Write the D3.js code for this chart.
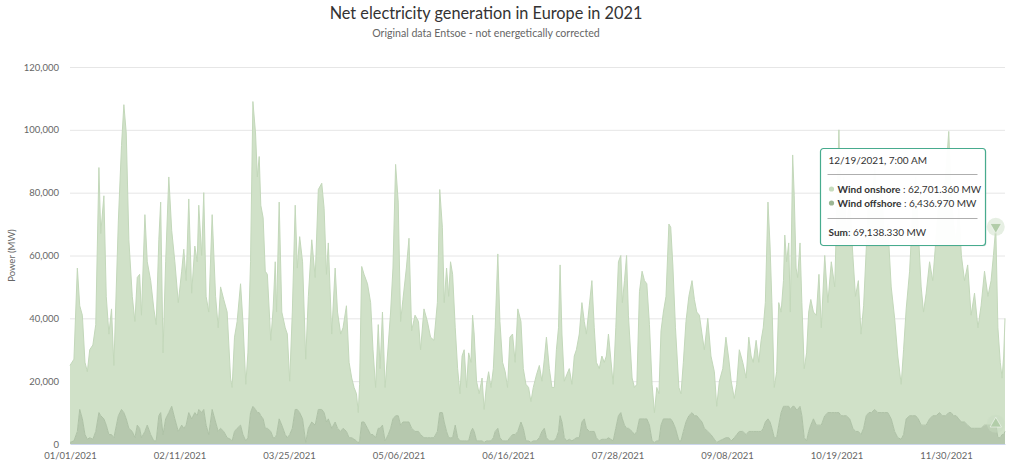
<!DOCTYPE html>
<html><head><meta charset="utf-8">
<script src="https://cdn.jsdelivr.net/npm/d3@7"></script>
<style>body{margin:0;background:#fff;} svg{display:block;font-family:Lato,'Open Sans',sans-serif;}</style>
</head><body><svg id="chart" width="1024" height="469"></svg>
<script>
// x positions: fractional day of year 2021 (0 = 01/01/2021 00:00)
const dayOfYear = [
0.0,1.5,2.8,3.7,4.7,5.7,6.6,7.5,8.7,9.8,11.0,11.7,12.9,13.8,14.8,15.8,16.7,18.4,19.6,20.5,21.4,22.4,23.7,24.7,25.6,26.5,27.2,28.5,29.4,30.7,31.9,32.8,33.8,34.5,35.4,36.4,37.6,38.7,39.9,41.2,42.5,43.3,44.2,45.2,46.3,47.5,48.4,49.0,50.1,50.9,51.8,52.8,54.1,55.4,56.4,57.3,58.5,59.8,61.1,61.7,62.6,63.6,64.9,65.8,66.9,67.7,68.7,69.6,70.6,
71.3,72.0,72.6,73.5,74.3,75.1,76.4,77.3,78.1,78.6,79.6,80.6,81.9,82.7,83.6,84.6,85.7,86.5,87.4,88.5,89.7,90.7,92.0,93.3,94.5,95.8,96.7,97.6,98.3,99.6,100.9,101.8,103.0,103.9,105.2,106.2,107.2,108.1,109.0,109.7,110.2,111.0,111.9,113.2,114.4,115.3,116.3,117.3,118.0,118.9,119.9,121.1,122.0,122.9,123.9,124.9,125.8,126.7,128.0,129.0,130.0,131.3,132.6,133.4,134.7,136.0,137.2,138.5,139.8,140.7,141.7,
142.4,143.3,144.1,144.8,145.6,146.6,147.5,148.4,149.2,150.0,150.9,151.7,152.6,153.2,153.8,154.7,155.7,156.8,157.6,158.5,159.3,160.2,161.1,161.8,162.8,163.6,164.6,165.6,166.5,167.4,168.4,169.4,170.4,171.6,172.5,173.5,174.5,175.4,176.3,177.5,178.6,179.6,180.5,181.3,182.4,183.4,184.3,185.1,185.9,186.5,187.2,188.1,189.0,190.0,191.0,191.9,192.7,193.8,194.8,195.7,196.5,197.6,198.6,199.5,200.3,201.4,202.4,203.3,204.1,204.9,205.8,206.7,207.7,208.7,209.6,210.2,211.0,211.8,212.5,
213.9,214.8,215.7,216.7,217.7,218.6,219.5,220.5,221.5,222.4,223.3,224.1,224.9,225.8,226.8,227.9,228.6,229.4,230.4,231.7,232.5,233.4,234.4,235.5,236.7,237.6,238.5,239.5,240.5,241.4,242.7,243.9,245.2,246.1,247.1,248.4,249.6,250.7,251.6,252.8,253.7,254.7,256.0,257.3,258.3,259.2,260.0,261.1,262.1,263.0,263.8,264.6,265.6,266.4,267.1,268.0,268.9,269.7,270.6,271.5,272.0,272.7,273.5,274.1,275.0,275.6,276.3,276.9,277.8,278.5,279.4,280.3,281.1,281.9,282.9,
284.0,285.0,285.9,287.2,288.4,289.7,291.0,291.8,292.6,293.4,294.4,295.4,296.7,297.9,298.9,300.0,301.0,302.0,303.0,304.0,305.0,306.2,307.4,308.7,310.0,311.2,312.5,313.8,315.0,316.3,317.2,318.2,319.5,320.7,321.8,322.8,323.9,324.8,325.8,327.1,328.3,329.6,330.9,331.9,333.2,334.4,335.3,336.2,337.2,338.2,339.2,340.4,341.6,342.9,344.2,345.5,346.7,348.0,349.3,350.5,351.4,352.2917,353.1,354.0,354.7,355.3,355.8
];
// Wind onshore, MW
const onshore = [
24500,26000,52000,33000,33000,23000,21500,28000,30000,34000,78000,58000,71000,41000,32000,40000,23000,62000,84000,98000,91000,60000,43000,37000,47000,49000,39000,69000,52000,49000,42000,37000,56000,67000,26000,50000,75000,56000,50000,41000,49000,57000,46000,68000,40000,53000,49000,65000,50000,69000,41000,39000,62000,40000,33000,45000,42000,40000,19500,17000,30000,34000,45000,36000,18000,27000,48000,97000,88000,
75000,81500,67000,64000,50000,49000,29000,41000,56000,39000,69000,36000,34000,33000,17000,37000,65000,45000,56000,50000,26500,42000,58000,47000,70000,72000,65000,47000,56000,30000,49000,37000,31000,32000,40000,24000,19000,16500,15000,9700,18000,49500,47000,46000,42000,27000,16000,33000,19000,36000,17000,28500,37000,48000,80000,68000,33000,39000,49000,58500,31000,37000,35000,27000,41000,37000,32000,31000,41000,71000,59000,
38000,52000,45000,56000,52000,31000,22000,15000,27000,29000,17000,28000,22000,36000,31000,19000,15000,20000,10500,18000,22000,17000,22000,33000,55500,37000,25000,22000,17000,32000,32000,23000,39000,32000,19000,18000,17000,13000,17000,21000,23000,16000,22000,32000,23000,17000,17000,28000,33000,48000,28000,18000,21000,22500,18000,26500,28000,33000,38000,31000,30000,40000,48000,33000,24000,23000,26500,24500,26500,33000,25500,18000,32000,49000,50000,37000,46000,55000,36000,
17000,15000,15000,40500,47000,44000,43000,32000,18000,9500,17000,15000,30000,34000,39000,62000,61000,50000,32000,17000,15000,22000,32000,38000,42000,37000,33000,33000,28000,25000,36000,25000,21500,11500,19000,22500,32000,25000,19000,12500,16000,26000,22000,18000,30000,24000,22000,29000,22000,29000,32000,38000,69000,56000,40000,16000,21000,39000,32000,40000,54500,46000,52000,31000,80000,67000,45000,42000,52000,36000,22000,28000,38000,40000,34000,
35000,48000,31000,51000,35000,48000,40000,65000,90000,61000,76000,59000,70000,55000,43000,48000,32000,39000,53000,70000,62000,77000,65000,72000,55000,60000,42000,36000,26000,17500,27000,35000,46000,66000,76000,60000,44000,36000,42000,50000,43000,57000,70000,63000,76000,89500,70000,61000,55000,67000,53000,45000,51000,36000,43000,32000,39000,49000,41000,46000,54000,62701.36,35000,24000,18000,25000,36000
];
// Wind offshore, MW
const offshore = [
500,1000,4000,11000,8000,3000,1500,2000,1500,4000,10000,9000,8000,6000,3000,3000,2000,9000,11000,10000,8000,5000,4000,2000,6000,5000,2000,4000,6000,3000,1000,1000,9000,10000,3000,8000,10000,12000,8000,4000,6000,5000,6000,10000,8000,10000,9000,11000,10000,11000,6000,3000,11000,7000,4000,5000,4000,2000,1500,1000,4000,5000,6000,3000,1000,2000,10000,12000,11000,
10000,10000,9000,8000,5000,5000,4000,2000,2000,3000,8000,6000,3000,2000,3000,5000,11000,11000,10000,8000,500,5000,7000,6000,11000,11000,10000,7000,8000,5000,7000,5000,4000,5000,4000,2000,2000,1500,1000,300,1000,7000,7000,5000,3000,3000,2000,5000,5000,6000,1000,3000,5000,8000,9000,9000,6000,7000,7000,7000,5000,4000,4000,3000,2000,2000,2000,2000,4000,10000,10000,
7000,4000,2000,2000,2000,6000,2000,1000,1000,1000,1000,1000,4000,5000,4000,1000,1000,1000,500,1000,1000,1000,2000,4000,5000,2000,1000,1000,1000,2000,3000,3000,4000,7000,5000,1000,1000,500,1000,1000,2000,4000,5000,2000,1000,1000,1000,2000,4000,9000,7000,2000,1000,1500,1000,1500,2000,2000,7000,8000,5000,4000,4000,4000,2000,1000,1500,1500,1500,2000,1500,1000,5000,9000,10000,8000,6000,5000,5000,
4000,3000,4000,8000,8000,8000,8000,6000,1000,500,1000,1000,6000,8000,8000,8000,8000,7000,5000,1000,1000,4000,7000,9000,10000,9000,9000,8000,7000,5000,4000,3000,1500,500,1000,1500,2000,2000,1000,2000,3000,4000,4000,3000,4000,4000,4000,4000,4000,4000,5000,7000,8000,7000,5000,2000,2000,6000,10000,12000,12000,12000,12000,11000,12000,12000,11000,11000,12000,9000,2000,1000,4000,6000,8000,
6000,6000,6000,9000,10000,10000,10000,10000,10000,9000,9000,9000,8000,5000,4000,4000,3000,5000,9000,10000,10000,11000,10000,10000,10000,10000,8000,4000,2000,1500,3000,8000,9000,9000,9000,8000,6000,6000,6000,8000,9000,9000,10000,9000,9000,10000,10000,9000,9000,8000,7000,7000,6000,5000,5000,5000,5000,6000,6000,6000,6000,6436.97,2000,2000,3000,3000,4000
];
const seriesNames = ["Wind onshore", "Wind offshore"];
const seriesColors = ["#d0e1c8", "#b6c8ae"];
const bulletColors = ["#c6dcbd", "#9cb694"];
const yTickValues = [0, 20000, 40000, 60000, 80000, 100000, 120000];
const xTickHours = [0, 1000, 2000, 3000, 4000, 5000, 6000, 7000, 8000];
const xTickLabels = ["01/01/2021","02/11/2021","03/25/2021","05/06/2021","06/16/2021","07/28/2021","09/08/2021","10/19/2021","11/30/2021"];
const titleText = "Net electricity generation in Europe in 2021";
const subtitleText = "Original data Entsoe - not energetically corrected";
const yAxisTitle = "Power (MW)";
const hoverDay = 352.2917;

if (dayOfYear.length !== onshore.length || dayOfYear.length !== offshore.length) {
  console.error("length mismatch", dayOfYear.length, onshore.length, offshore.length);
}

const svg = d3.select("#chart");
const pL = 70, pR = 1005, pT = 67, pB = 444;

const x = d3.scaleLinear().domain([dayOfYear[0], dayOfYear[dayOfYear.length - 1]]).range([pL, pR]);
const y = d3.scaleLinear().domain([0, 120000]).range([pB, pT]);

const rows = dayOfYear.map((d, i) => ({day: d, onshore: onshore[i], offshore: offshore[i]}));
const stack = d3.stack().keys(["offshore", "onshore"]);
const layers = stack(rows);

// title
svg.append("text").attr("x", 486).attr("y", 18.5).attr("text-anchor", "middle")
  .attr("font-size", 16.3).attr("fill", "#333").text(titleText);
svg.append("text").attr("x", 486).attr("y", 37).attr("text-anchor", "middle")
  .attr("font-size", 10.6).attr("fill", "#666").text(subtitleText);

// grid
const yAxis = d3.axisLeft(y).tickValues(yTickValues).tickSize(-(pR - pL)).tickPadding(11)
  .tickFormat(d3.format(","));
const gy = svg.append("g").attr("transform", `translate(${pL},0)`).call(yAxis);
gy.select(".domain").remove();
gy.selectAll(".tick line").attr("stroke", "#e6e6e6");
gy.selectAll(".tick").filter(d => d === 0).select("line").remove();
gy.selectAll(".tick text").attr("fill", "#666").attr("font-size", 9.5).attr("font-family", "Lato");

svg.append("text").attr("transform", `translate(15,${(pT + pB) / 2}) rotate(-90)`)
  .attr("text-anchor", "middle").attr("font-size", 9.5).attr("fill", "#666").text(yAxisTitle);

// areas
const area = d3.area().x(d => x(d.data.day)).y0(d => y(d[0])).y1(d => y(d[1])).curve(d3.curveLinear);
const line = d3.line().x(d => x(d.data.day)).y(d => y(d[1])).curve(d3.curveLinear);
const colorIdx = {onshore: 0, offshore: 1};
svg.append("g").selectAll("path.area").data(layers).join("path")
  .attr("class", "area").attr("d", area)
  .attr("fill", d => seriesColors[colorIdx[d.key]]);
svg.append("g").selectAll("path.edge").data(layers).join("path")
  .attr("class", "edge").attr("d", line).attr("fill", "none")
  .attr("stroke", d => d.key === "onshore" ? "#c3d8ba" : "#adc1a5").attr("stroke-width", 1);

// x axis
const xAxis = d3.axisBottom(x).tickValues(xTickHours.map(h => h / 24)).tickSize(0).tickPadding(8)
  .tickFormat((d, i) => xTickLabels[i]);
const gx = svg.append("g").attr("transform", `translate(0,${pB})`).call(xAxis);
gx.select(".domain").attr("stroke", "#ccd6eb");
gx.selectAll(".tick text").attr("fill", "#666").attr("font-size", 9.5).attr("font-family", "Lato");

// hover markers
const hi = dayOfYear.indexOf(hoverDay);
const hx = x(dayOfYear[hi]);
const topY = y(onshore[hi] + offshore[hi]);
const offY = y(offshore[hi]);
[[topY, 180], [offY, 0]].forEach(([py, rot]) => {
  svg.append("circle").attr("cx", hx).attr("cy", py).attr("r", 9).attr("fill", "#c8dcc0").attr("opacity", 0.45);
  svg.append("path").attr("d", d3.symbol(d3.symbolTriangle, 55)()).attr("transform", `translate(${hx},${py}) rotate(${rot})`)
    .attr("fill", "#b2cda9").attr("stroke", "#fff").attr("stroke-width", 0.5);
});

// tooltip
const tt = svg.append("g").attr("transform", "translate(820.5,148.5)");
tt.append("rect").attr("x", 1).attr("y", 1).attr("width", 165).attr("height", 97).attr("rx", 3)
  .attr("fill", "#000").attr("opacity", 0.06);
tt.append("rect").attr("width", 165).attr("height", 97).attr("rx", 3)
  .attr("fill", "rgba(255,255,255,0.97)").attr("stroke", "#47ab8e").attr("stroke-width", 1.2);
const hourIdx = Math.round(dayOfYear[hi] * 24);
const dt = new Date(Date.UTC(2021, 0, 1) + hourIdx * 3600e3);
const fmt = d3.format(",.3f");
tt.append("text").attr("x", 8).attr("y", 15).attr("font-size", 10).attr("fill", "#333")
  .text(d3.utcFormat("%m/%d/%Y, %-I:%M %p")(dt));
tt.append("line").attr("x1", 7).attr("x2", 157).attr("y1", 26).attr("y2", 26).attr("stroke", "#999").attr("stroke-width", 0.8);
const vals = [onshore[hi], offshore[hi]];
vals.forEach((v, i) => {
  const ty = 44 + i * 14;
  tt.append("circle").attr("cx", 11).attr("cy", ty - 3.5).attr("r", 2.6).attr("fill", bulletColors[i]);
  const t = tt.append("text").attr("x", 17).attr("y", ty).attr("font-size", 10).attr("fill", "#333");
  t.append("tspan").attr("font-weight", "bold").text(seriesNames[i]);
  t.append("tspan").text(" : " + fmt(v) + " MW");
});
tt.append("line").attr("x1", 7).attr("x2", 157).attr("y1", 70).attr("y2", 70).attr("stroke", "#999").attr("stroke-width", 0.8);
const st = tt.append("text").attr("x", 8).attr("y", 87).attr("font-size", 10).attr("fill", "#333");
st.append("tspan").attr("font-weight", "bold").text("Sum");
st.append("tspan").text(": " + fmt(vals[0] + vals[1]) + " MW");
</script></body></html>
